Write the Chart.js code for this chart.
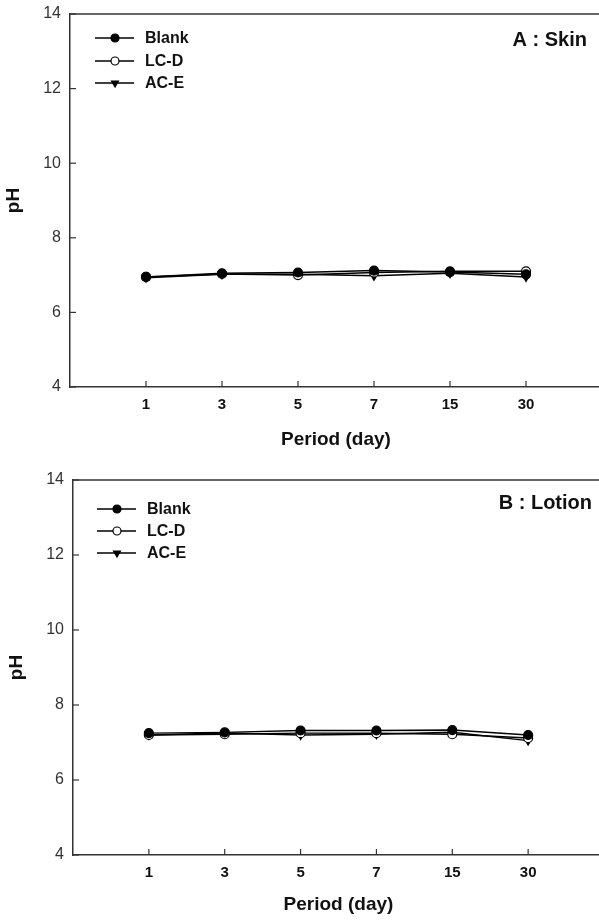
<!DOCTYPE html>
<html><head><meta charset="utf-8">
<script src="https://cdn.jsdelivr.net/npm/chart.js@4/dist/chart.umd.min.js"></script>
<style>
html,body{margin:0;padding:0;background:#fff;overflow:hidden;width:599px;height:922px;}
canvas{position:absolute;left:0;}
</style></head>
<body>
<canvas id="c1" style="top:-6px;width:620px;height:466px" width="620" height="466"></canvas>
<canvas id="c2" style="top:460px;width:620px;height:462px" width="620" height="462"></canvas>
<script>
const days = ['1','3','5','7','15','30'];
const seriesNames = ['Blank','LC-D','AC-E'];
const yTicks = [4,6,8,10,12,14];
const skinBlank = [6.95, 7.05, 7.07, 7.12, 7.08, 7.02];
const skinLCD   = [6.95, 7.03, 7.00, 7.07, 7.10, 7.10];
const skinACE   = [6.93, 7.02, 7.02, 6.98, 7.05, 6.95];
const lotionBlank = [7.25, 7.27, 7.32, 7.32, 7.33, 7.20];
const lotionLCD   = [7.20, 7.22, 7.25, 7.25, 7.22, 7.12];
const lotionACE   = [7.20, 7.25, 7.20, 7.22, 7.27, 7.05];

const FONT = '"Liberation Sans", Arial, sans-serif';
const styles = [
  {pointStyle:'circle', backgroundColor:'#000', rotation:0},
  {pointStyle:'circle', backgroundColor:'#fff', rotation:0},
  {pointStyle:'triangle', backgroundColor:'#000', rotation:180}
];

function mkData(arr){ return arr.map((v,i)=>({x:i,y:v})); }

const deco = {
  id:'deco',
  afterDraw(chart){
    const o = chart.options.plugins.deco;
    const ctx = chart.ctx;
    const {left,right,top,bottom} = chart.chartArea;
    const xs = chart.scales.x, ys = chart.scales.y;
    ctx.save();
    ctx.strokeStyle = '#333'; ctx.lineWidth = 1.5;
    ctx.beginPath(); ctx.moveTo(left, top); ctx.lineTo(right, top); ctx.stroke();
    ctx.lineWidth = 1.2;
    yTicks.forEach(v=>{ const y = ys.getPixelForValue(v); ctx.beginPath(); ctx.moveTo(left, y); ctx.lineTo(left+6, y); ctx.stroke(); });
    days.forEach((d,i)=>{ const x = xs.getPixelForValue(i); ctx.beginPath(); ctx.moveTo(x, bottom); ctx.lineTo(x, bottom-6); ctx.stroke(); });
    // axis titles
    ctx.fillStyle = '#111';
    ctx.font = 'bold 19px ' + FONT;
    ctx.textAlign = 'center'; ctx.textBaseline = 'middle';
    ctx.fillText('Period (day)', xs.getPixelForValue(2.5), bottom + o.xTitleOff);
    ctx.save();
    ctx.translate(o.yTitleX, (top+bottom)/2);
    ctx.rotate(-Math.PI/2);
    ctx.fillText('pH', 0, 0);
    ctx.restore();
    // panel label
    ctx.textAlign = 'right';
    ctx.font = 'bold 20px ' + FONT;
    ctx.fillText(o.panel, o.panelX, top + o.panelY);
    // legend
    ctx.font = 'bold 16px ' + FONT;
    ctx.textAlign = 'left';
    chart.data.datasets.forEach((ds,i)=>{
      const y = top + o.legY[i];
      ctx.strokeStyle = '#000'; ctx.lineWidth = 1.5;
      ctx.beginPath(); ctx.moveTo(o.legX, y); ctx.lineTo(o.legX+39, y); ctx.stroke();
      ctx.fillStyle = ds.pointBackgroundColor;
      ctx.lineWidth = 1.2;
      Chart.helpers.drawPoint(ctx, {pointStyle: ds.pointStyle, radius: 4, borderWidth: 1.2, rotation: ds.pointRotation}, o.legX+20, y);
      ctx.fillStyle = '#111';
      ctx.fillText(ds.label, o.legX+50, y+1);
    });
    ctx.restore();
  }
};

function makeChart(id, arrs, geo){
  const datasets = arrs.map((a,i)=>({
    label: seriesNames[i],
    data: mkData(a),
    borderColor:'#000', borderWidth:1.5,
    pointStyle: styles[i].pointStyle,
    pointRotation: styles[i].rotation,
    pointRadius: 4.5,
    pointBackgroundColor: styles[i].backgroundColor,
    pointBorderColor:'#000', pointBorderWidth:1.2,
    tension:0, fill:false,
    order: i
  }));
  return new Chart(document.getElementById(id), {
    type:'line',
    data:{datasets},
    options:{
      responsive:false, animation:false, devicePixelRatio:1,
      layout:{padding:{left:0, top:geo.top, right:geo.right, bottom:0}},
      plugins:{legend:{display:false}, tooltip:{enabled:false},
        deco: geo.deco},
      scales:{
        x:{type:'linear', min:-1, max:6,
           afterFit(s){ s.height = geo.xH; },
           grid:{display:false, drawTicks:false},
           border:{display:true, color:'#333', width:1.5},
           ticks:{stepSize:1, autoSkip:false, maxRotation:0, padding:geo.xPad,
             color:'#111', font:{family:FONT, size:15, weight:'bold'},
             callback:(v)=> (v>=0 && v<days.length) ? days[v] : ''}},
        y:{type:'linear', min:4, max:14,
           afterFit(s){ s.width = geo.yW; },
           afterBuildTicks(s){ s.ticks = yTicks.map(v=>({value:v})); },
           grid:{display:false, drawTicks:false},
           border:{display:true, color:'#333', width:1.5},
           ticks:{padding:9, color:'#333', font:{family:FONT, size:16}}}
      }
    },
    plugins:[deco]
  });
}

makeChart('c1', [skinBlank, skinLCD, skinACE], {
  top:20, right:18, xH:73, yW:70, xPad:9,
  deco:{panel:'A : Skin', panelX:587, panelY:26, legX:95, legY:[24,47,69], xTitleOff:53, yTitleX:14}
});
makeChart('c2', [lotionBlank, lotionLCD, lotionACE], {
  top:20, right:16, xH:67, yW:73, xPad:9,
  deco:{panel:'B : Lotion', panelX:592, panelY:23, legX:97, legY:[29,51,73], xTitleOff:50, yTitleX:17}
});
</script>
</body></html>
